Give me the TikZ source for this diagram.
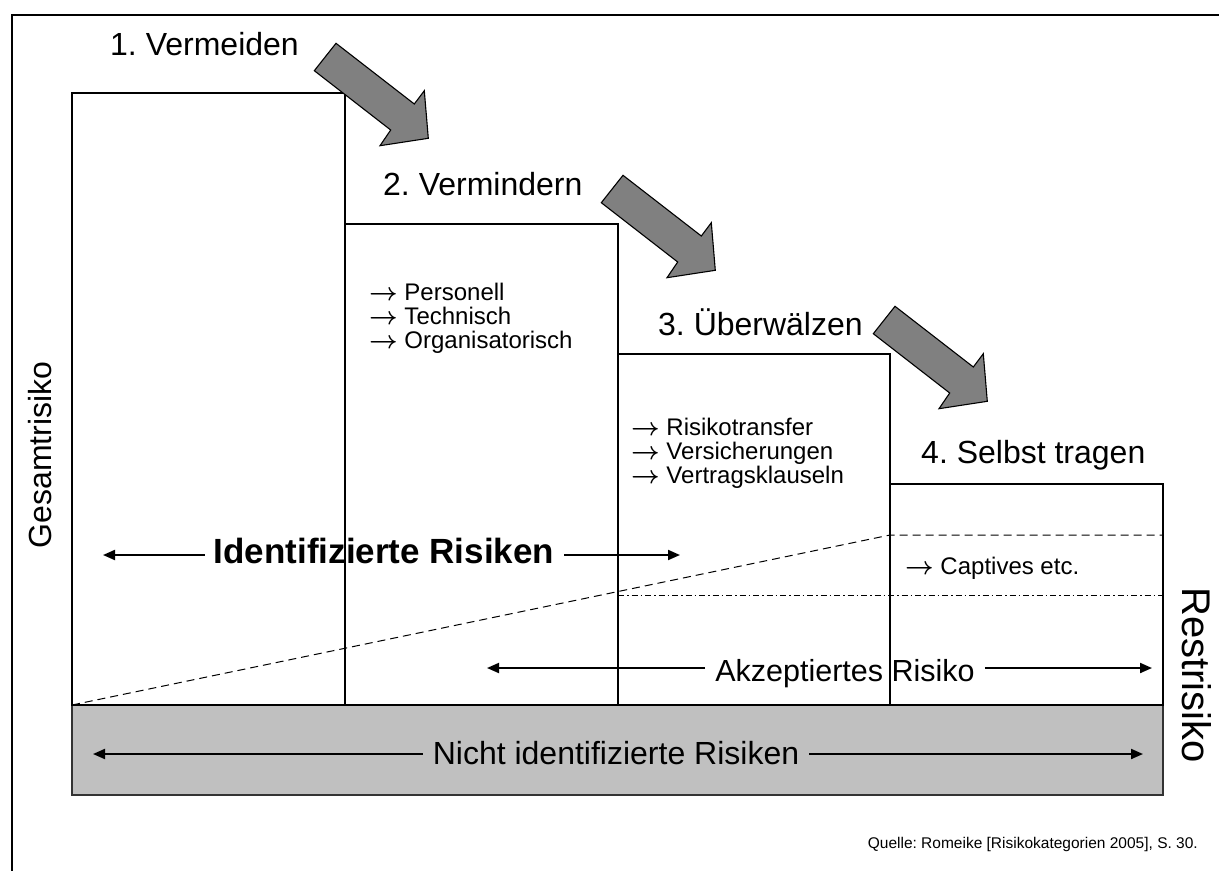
\documentclass[tikz,border=0pt]{standalone}
\usepackage{fontspec}
\setmainfont{Liberation Sans}
\usetikzlibrary{arrows.meta}

% font size given in points, line spacing equal to size
\newcommand\pxsize[1]{\fontsize{#1}{#1}\selectfont}
% bullet arrow in front of each measure
\newcommand\itemarrow{\mbox{\boldmath$\rightarrow$}}

\definecolor{arrowgray}{HTML}{808080}
\definecolor{basegray}{HTML}{C0C0C0}

\frenchspacing

\begin{document}
\begin{tikzpicture}[x=1pt,y=-1pt,
  box/.style={draw=black,line width=1.3pt,fill=white},
  basebox/.style={draw=black!80,line width=1.6pt,fill=basegray},
  frameline/.style={line width=2pt},
  stepfill/.style={draw=black,line width=1.1pt,fill=arrowgray,line join=miter},
  lbl/.style={inner sep=0pt,anchor=base west,font=\pxsize{32}},
  bigtext/.style={inner sep=0pt,anchor=base,font=\pxsize{32}},
  itemlist/.style={inner sep=0pt,anchor=north west,align=left,font=\fontsize{24}{24}\selectfont},
  dimarrow/.style={line width=2pt,-{Triangle[length=12pt,width=10pt]}},
  levelline/.style={line width=1pt,dash pattern=on 8pt off 5pt},
  dotline/.style={line width=1pt,dash pattern=on 6pt off 3pt on 1.5pt off 3pt},
  blockarrow/.pic={
    \draw[stepfill] (0,0) -- (78.3,60.7) -- (88.3,47.4) -- (92.3,95)
      -- (44,102.4) -- (54.7,86.7) -- (-21.7,27.4) -- cycle;
  },
]
\useasboundingbox (0,0) rectangle (1219,871);

% outer frame (top and left edges only)
\draw[frameline] (1219,15) -- (12,15) -- (12,871);

% base: unidentified risks
\draw[basebox] (72,705) rectangle (1163,795);

% the four steps
\draw[box] (72,93) rectangle (345,705);
\draw[box] (345,224) rectangle (618,705);
\draw[box] (618,354) rectangle (890,705);
\draw[box] (890,484) rectangle (1163,705);

% level of accepted risk
\draw[levelline] (72,705) -- (890,535) -- (1163,535);
\draw[dotline] (618,595) -- (1163,595);

% step arrows
\pic at (336,43.3) {blockarrow};
\pic at (623,175.3) {blockarrow};
\pic at (895,306.3) {blockarrow};

% step titles
\node[lbl] (s1) at (110,55) {1. Vermeiden};
\node[lbl] (s2) at (383,195) {2. Vermindern};
\node[lbl] (s3) at (658,335) {3. Überwälzen};
\node[lbl] (s4) at (921,463) {4. Selbst tragen};

% measures per step
\node[itemlist] (m2) at (369,283) {\itemarrow{} Personell\\\itemarrow{} Technisch\\\itemarrow{} Organisatorisch};
\node[itemlist] (m3) at (631,418) {\itemarrow{} Risikotransfer\\\itemarrow{} Versicherungen\\\itemarrow{} Vertragsklauseln};
\node[itemlist] (m4) at (905,557) {\itemarrow{} Captives etc.};

% side labels
\node[rotate=90,inner sep=0pt,font=\pxsize{32}] (gesamt) at (40,455) {Gesamtrisiko};
\node[rotate=-90,inner sep=0pt,font=\pxsize{40}] (rest) at (1197,675) {Restrisiko};

% identified risks
\node[inner sep=0pt,anchor=base,font=\bfseries\pxsize{35}] (ident) at (384,563) {Identifizierte Risiken};
\coordinate (identL) at (103,555);
\coordinate (identR) at (680,555);
\draw[dimarrow] ([xshift=-9pt]ident.west |- identL) -- (identL);
\draw[dimarrow] ([xshift=10pt]ident.east |- identR) -- (identR);

% accepted risk
\node[bigtext,font=\pxsize{30.5}] (akz) at (845,681) {Akzeptiertes Risiko};
\coordinate (akzL) at (487,668);
\coordinate (akzR) at (1152,668);
\draw[dimarrow] ([xshift=-10pt]akz.west |- akzL) -- (akzL);
\draw[dimarrow] ([xshift=10pt]akz.east |- akzR) -- (akzR);

% unidentified risks
\node[bigtext] (nicht) at (616,764) {Nicht identifizierte Risiken};
\coordinate (nichtL) at (93,754);
\coordinate (nichtR) at (1143,754);
\draw[dimarrow] ([xshift=-10pt]nicht.west |- nichtL) -- (nichtL);
\draw[dimarrow] ([xshift=10pt]nicht.east |- nichtR) -- (nichtR);

% source
\node[inner sep=0pt,anchor=base east,font=\pxsize{15.5}] (quelle) at (1198,848)
  {Quelle: Romeike [Risikokategorien 2005], S. 30.};
\end{tikzpicture}
\end{document}
